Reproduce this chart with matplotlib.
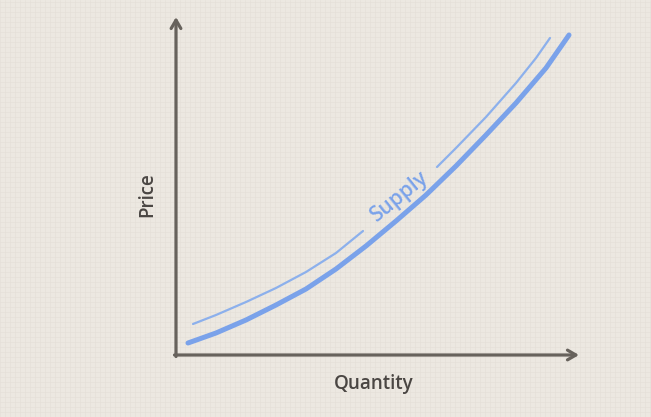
import matplotlib
matplotlib.use("Agg")
import matplotlib.pyplot as plt

# Supply curve (thick) - quantity vs price
supply_q = [12, 40, 70, 100, 130, 160, 190, 220, 250, 280, 310, 340, 370, 393]
supply_p = [12, 22, 35, 50, 66, 86, 109, 134, 160, 189, 220, 252, 287, 320]

# Thin guide curve, split around the label
guide_low_q = [17, 40, 70, 100, 130, 160, 187]
guide_low_p = [31, 40, 53, 67, 83, 102, 124]
guide_high_q = [261, 280, 310, 340, 360, 374]
guide_high_p = [188, 207, 238, 272, 297, 317]

label_text = "Supply"
x_label = "Quantity"
y_label = "Price"

bg = "#ece8e1"
grid_col = "#e4dfd7"
axis_col = "#67625c"
blue_thick = "#7aa2ea"
blue_thin = "#8cb0ec"
text_col = "#4a4643"

fig = plt.figure(figsize=(6.51, 4.17), dpi=100, facecolor=bg)
ax = fig.add_axes([0, 0, 1, 1], facecolor=bg)
ax.set_xlim(-176, 651 - 176)
ax.set_ylim(355 - 417, 355)
ax.axis("off")

# faint texture grid
for gx in range(-176, 651 - 176, 5):
    ax.axvline(gx, color=grid_col, lw=0.4, zorder=0)
for gy in range(-62, 356, 5):
    ax.axhline(gy, color=grid_col, lw=0.4, zorder=0)

# axes arrows
ax.annotate("", xy=(403, 0), xytext=(-1.5, 0),
            arrowprops=dict(arrowstyle="->,head_length=0.6,head_width=0.35",
                            color=axis_col, lw=2.3, shrinkA=0, shrinkB=0))
ax.annotate("", xy=(0, 338), xytext=(0, -1.5),
            arrowprops=dict(arrowstyle="->,head_length=0.6,head_width=0.35",
                            color=axis_col, lw=2.3, shrinkA=0, shrinkB=0))

ax.plot(supply_q, supply_p, color=blue_thick, lw=3.6, solid_capstyle="round",
        solid_joinstyle="round", zorder=3)
ax.plot(guide_low_q, guide_low_p, color=blue_thin, lw=1.6, solid_capstyle="round",
        solid_joinstyle="round", zorder=3)
ax.plot(guide_high_q, guide_high_p, color=blue_thin, lw=1.6, solid_capstyle="round",
        solid_joinstyle="round", zorder=3)

ax.text(224, 159, label_text, rotation=39, ha="center", va="center",
        color=blue_thick, fontsize=15, family="Open Sans", fontweight="semibold",
        rotation_mode="anchor")

ax.text(198, -29, x_label, ha="center", va="center", color=text_col,
        fontsize=13.5, family="Open Sans", fontweight="semibold")
ax.text(-29, 160, y_label, ha="center", va="center", rotation=90, color=text_col,
        fontsize=13.5, family="Open Sans", fontweight="semibold")

fig.savefig("out.png", dpi=100, facecolor=bg)
